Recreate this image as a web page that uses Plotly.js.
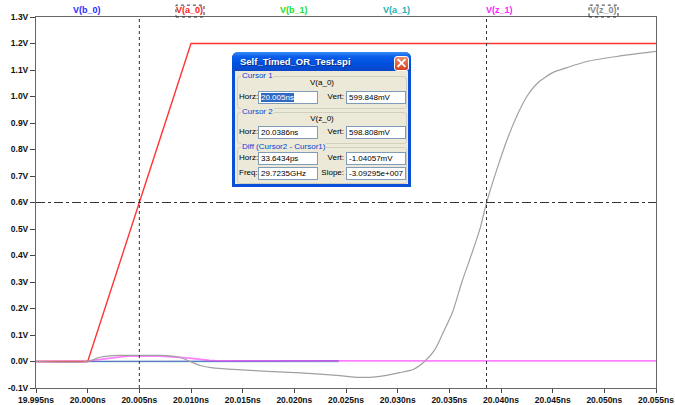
<!DOCTYPE html>
<html>
<head>
<meta charset="utf-8">
<script src="https://cdn.plot.ly/plotly-3.0.1.min.js"></script>
<style>
  html, body { margin: 0; padding: 0; background: #fff; }
  #wrap { position: relative; width: 675px; height: 405px; }
  #plot { position: absolute; left: 0; top: 0; width: 675px; height: 405px; }
  .d { position: absolute; font-family: "Liberation Sans", Arial, sans-serif; font-size: 8px; color: #000; white-space: nowrap; line-height: 12px; }
  .grp { position: absolute; border: 1px solid #D0D0BF; border-radius: 3px; }
  .glab { position: absolute; font-family: "Liberation Sans", Arial, sans-serif; font-size: 8px; color: #0046D5; background: #ECE9D8; padding: 0 1px; line-height: 10px; white-space: nowrap; }
  .inp { position: absolute; background: #fff; border: 1px solid #7F9DB9; box-sizing: border-box; font-family: "Liberation Sans", Arial, sans-serif; font-size: 8px; line-height: 11px; padding-left: 2px; white-space: nowrap; overflow: hidden; }
  .sel { background: #316AC5; color: #fff; }
</style>
</head>
<body>
<div id="wrap">
  <div id="plot"></div>
  <div id="dlg"></div>
</div>
<script>
// ---- Data (time in ns, voltage in V) ----
var t_a0 = [19.995, 20.000, 20.010, 20.055];
var v_a0 = [0, 0, 1.2, 1.2];

var t_z0 = [19.995, 20.000, 20.0012, 20.0031, 20.0051, 20.0070, 20.0089, 20.0099, 20.0109, 20.0121, 20.0141, 20.0174, 20.0206, 20.0244, 20.0262, 20.0281, 20.0302, 20.0315, 20.0326, 20.0336, 20.0344, 20.0353, 20.0362, 20.0372, 20.0380, 20.0386, 20.0396, 20.0406, 20.0416, 20.0425, 20.0436, 20.0450, 20.0464, 20.0483, 20.0512, 20.0550];
var v_z0 = [0, 0, 0.016, 0.023, 0.023, 0.023, 0.016, 0.0, -0.015, -0.024, -0.030, -0.037, -0.043, -0.053, -0.060, -0.057, -0.042, -0.030, 0.0, 0.045, 0.109, 0.185, 0.298, 0.410, 0.505, 0.599, 0.725, 0.838, 0.932, 1.0, 1.053, 1.090, 1.109, 1.132, 1.151, 1.170];

var t_z1 = [19.995, 20.000, 20.0005, 20.0038, 20.0070, 20.0096, 20.0118, 20.0125, 20.055];
var v_z1 = [0, 0, 0.004, 0.020, 0.020, 0.014, 0.004, 0.002, 0.002];

var t_b0 = [19.995, 20.000, 20.0118, 20.0243];
var v_b0 = [0, 0, 0.002, 0.002];

var t_a1 = [19.995, 20.0243];
var v_a1 = [0, 0];

var t_b1 = [19.995, 20.0243];
var v_b1 = [0, 0];

var cursorTimes = [20.005, 20.0386];
var cursorLevel = 0.6;

var xTicks = [19.995, 20.000, 20.005, 20.010, 20.015, 20.020, 20.025, 20.030, 20.035, 20.040, 20.045, 20.050, 20.055];
var xTickText = ["19.995ns", "20.000ns", "20.005ns", "20.010ns", "20.015ns", "20.020ns", "20.025ns", "20.030ns", "20.035ns", "20.040ns", "20.045ns", "20.050ns", "20.055ns"];
var yTicks = [-0.1, 0.0, 0.1, 0.2, 0.3, 0.4, 0.5, 0.6, 0.7, 0.8, 0.9, 1.0, 1.1, 1.2, 1.3];
var yTickText = ["-0.1V", "0.0V", "0.1V", "0.2V", "0.3V", "0.4V", "0.5V", "0.6V", "0.7V", "0.8V", "0.9V", "1.0V", "1.1V", "1.2V", "1.3V"];

var traceNames = ["V(b_0)", "V(a_0)", "V(b_1)", "V(a_1)", "V(z_1)", "V(z_0)"];
var traceLabelColors = ["#2B2BFF", "#FF2020", "#22E022", "#20B0B0", "#FF22FF", "#888888"];

// ---- Traces ----
function tr(x, y, color, width, opacity, shape) {
  return { x: x, y: y, type: 'scatter', mode: 'lines', line: { color: color, width: width, shape: shape || 'linear', smoothing: 0.6 }, opacity: opacity || 1, hoverinfo: 'skip', showlegend: false };
}
var data = [
  tr(t_b1, v_b1, '#33DD33', 1.2),
  tr(t_a1, v_a1, '#66CCCC', 1.5),
  tr(t_z1, v_z1, '#FF80FF', 1.8),
  tr(t_b0, v_b0, '#6030C0', 1.2, 0.6),
  tr(t_a0, v_a0, '#FF3535', 1.4),
  tr(t_z0, v_z0, '#A0A0A0', 1.2, 1, 'spline')
];

var tickFont = { family: 'Liberation Sans, Arial, sans-serif', size: 8.5, color: '#111', weight: 'bold' };

var shapes = [];
cursorTimes.forEach(function (c) {
  shapes.push({ type: 'line', xref: 'x', yref: 'paper', x0: c, x1: c, y0: 0, y1: 1, line: { color: '#333', width: 1, dash: 'dot' } });
});
shapes.push({ type: 'line', xref: 'paper', yref: 'y', x0: 0, x1: 1, y0: cursorLevel, y1: cursorLevel, line: { color: '#333', width: 1, dash: 'dashdot' } });

// label positions (paper coordinates)
var labelX = [0.082, 0.248, 0.416, 0.582, 0.748, 0.915];
var annotations = traceNames.map(function (n, i) {
  return { text: n, xref: 'paper', yref: 'paper', x: labelX[i], y: 1.02, xanchor: 'center', yanchor: 'middle', showarrow: false,
           font: { family: 'Liberation Sans, Arial, sans-serif', size: 9, color: traceLabelColors[i], weight: 'bold' } };
});
// dotted boxes around the cursor-attached traces' labels
shapes.push({ type: 'rect', xref: 'paper', yref: 'paper', x0: 0.2258, x1: 0.2710, y0: 1.0, y1: 1.032, line: { color: '#333', width: 1, dash: 'dot' } });
shapes.push({ type: 'rect', xref: 'paper', yref: 'paper', x0: 0.8920, x1: 0.9387, y0: 1.0, y1: 1.032, line: { color: '#333', width: 1, dash: 'dot' } });

var layout = {
  width: 675, height: 405,
  margin: { l: 36, r: 19, t: 17, b: 17, pad: 0 },
  paper_bgcolor: '#fff', plot_bgcolor: '#fff',
  showlegend: false,
  xaxis: { range: [19.995, 20.055], tickmode: 'array', tickvals: xTicks, ticktext: xTickText, ticks: 'outside', ticklen: 4, tickcolor: '#444',
           showline: true, mirror: true, linecolor: '#666', linewidth: 1, showgrid: false, zeroline: false, tickfont: tickFont, automargin: false, fixedrange: true },
  yaxis: { range: [-0.1, 1.3], tickmode: 'array', tickvals: yTicks, ticktext: yTickText, ticks: 'outside', ticklen: 5, tickcolor: '#444',
           showline: true, mirror: true, linecolor: '#666', linewidth: 1, showgrid: false, zeroline: false, tickfont: tickFont, automargin: false, fixedrange: true },
  shapes: shapes,
  annotations: annotations
};

Plotly.newPlot('plot', data, layout, { displayModeBar: false, staticPlot: true });

// ---- Cursor dialog overlay ----
var dlgTitle = "Self_Timed_OR_Test.spi";
var c1Trace = "V(a_0)", c1Horz = "20.005ns", c1Vert = "599.848mV";
var c2Trace = "V(z_0)", c2Horz = "20.0386ns", c2Vert = "598.808mV";
var dHorz = "33.6434ps", dVert = "-1.04057mV", dFreq = "29.7235GHz", dSlope = "-3.09295e+007";

function el(cls, style, html) {
  var e = document.createElement('div');
  if (cls) e.className = cls;
  e.setAttribute('style', style);
  if (html !== undefined) e.innerHTML = html;
  document.getElementById('dlg').appendChild(e);
  return e;
}
function esc(s) { return s.replace(/&/g, '&amp;').replace(/</g, '&lt;'); }

// frame + title bar
el('', 'position:absolute;left:232px;top:52px;width:179px;height:135px;border-radius:6px 6px 0 0;background:#0A4FD8;');
el('', 'position:absolute;left:232px;top:52px;width:179px;height:19px;border-radius:6px 6px 0 0;background:linear-gradient(#3C8CF8 0%, #0A5EEA 25%, #0050E0 60%, #0A47C8 100%);');
el('d', 'left:240px;top:55px;font-size:9.5px;font-weight:bold;color:#fff;line-height:14px;text-shadow:1px 1px 0 #0A2A80;', esc(dlgTitle));
// close button
el('', 'position:absolute;left:394px;top:56px;width:13px;height:13px;border:1px solid #fff;border-radius:3px;background:linear-gradient(#F08A6A,#D8401C);');
el('', 'position:absolute;left:396px;top:62px;width:11px;height:2px;background:#fff;transform:rotate(45deg);');
el('', 'position:absolute;left:396px;top:62px;width:11px;height:2px;background:#fff;transform:rotate(-45deg);');
// body
el('', 'position:absolute;left:235px;top:71px;width:173px;height:113px;background:#ECE9D8;');

function group(top, h, label) {
  el('grp', 'left:237px;top:' + top + 'px;width:168px;height:' + h + 'px;');
  el('glab', 'left:241px;top:' + (top - 5) + 'px;', esc(label));
}
function row(top, l1, v1, l2, v2, sel) {
  el('d', 'left:239px;top:' + top + 'px;', esc(l1));
  el('inp', 'left:258px;top:' + top + 'px;width:60px;height:13px;', sel ? '<span class="sel">' + esc(v1) + '</span>' : esc(v1));
  el('d', 'left:316px;top:' + top + 'px;width:28px;text-align:right;', esc(l2));
  el('inp', 'left:346px;top:' + top + 'px;width:60px;height:13px;', esc(v2));
}

group(76, 31, "Cursor 1");
el('d', 'left:237px;top:77px;width:170px;text-align:center;', esc(c1Trace));
row(91, "Horz:", c1Horz, "Vert:", c1Vert, true);

group(112, 30, "Cursor 2");
el('d', 'left:237px;top:113px;width:170px;text-align:center;', esc(c2Trace));
row(126, "Horz:", c2Horz, "Vert:", c2Vert, false);

group(147, 35, "Diff (Cursor2 - Cursor1)");
row(152, "Horz:", dHorz, "Vert:", dVert, false);
row(167, "Freq:", dFreq, "Slope:", dSlope, false);
</script>
</body>
</html>
